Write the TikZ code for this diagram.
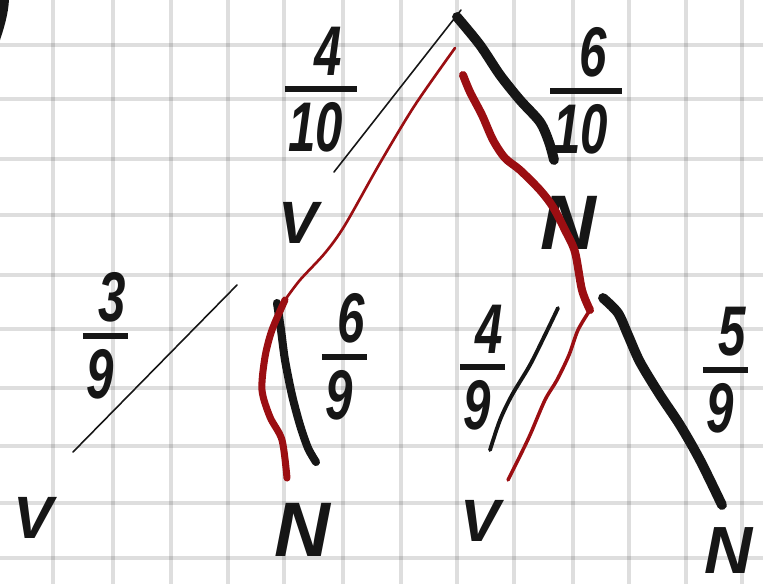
\documentclass[tikz,border=0pt]{standalone}
\usepackage{fontspec}
\setmainfont{Liberation Sans}
\usepackage{graphicx}
\definecolor{ink}{HTML}{161616}
\definecolor{inkred}{HTML}{9B0E12}
% hand-written fraction: narrow digits over a thick bar
\newcommand\frc[2]{\setbox0\hbox{\scalebox{0.7}[1]{#2}}%
  \vbox{\baselineskip0pt\lineskip0pt\lineskiplimit0pt
    \halign{\hfil##\hfil\cr
      \kern7pt\scalebox{0.7}[1]{#1}\cr\noalign{\kern3pt}
      \kern3pt\vrule width\dimexpr\wd0+5pt\relax height1.7pt depth0pt\cr\noalign{\kern3pt}
      \copy0\cr}}}

\begin{document}
\begin{tikzpicture}[x=0.1mm, y=-0.1mm,
    gridline/.style={draw=black, opacity=0.13, line width=1.05pt},
    pen/.style={draw=ink, line cap=round, line join=round},
    redpen/.style={draw=inkred, line cap=round, line join=round},
    lab/.style={inner sep=0pt, text=ink, font=\bfseries\itshape\fontsize{22}{22}\selectfont},
    vlab/.style={lab, font=\bfseries\itshape\fontsize{17}{17}\selectfont},
    frac/.style={inner sep=0pt, text=ink, font=\bfseries\itshape\fontsize{20}{20}\selectfont}]
  \useasboundingbox (0,0) rectangle (763,584);
  \fill[white] (0,0) rectangle (763,584);
  % squared paper
  \foreach \gx in {53,113,171,228,284,343,401,457,514,573,629,686,742}
    \draw[gridline] (\gx,0) -- (\gx,584);
  \foreach \gy in {45,99,159,215,275,329,388,446,503,558}
    \draw[gridline] (0,\gy) -- (763,\gy);
  \fill[ink] (0,0) -- (9,0) .. controls (8,15) and (4,28) .. (0,40) -- cycle;

  % outcomes
  \coordinate (root) at (461,10);
  \node[vlab] (V1) at (298,223) {V};
  \node[lab] (N1) at (568,223) {N};
  \node[vlab] (VV) at (33,518) {V};
  \node[lab] (VN) at (302,530) {N};
  \node[vlab] (NV) at (480,521) {V};
  \node[lab, font=\bfseries\itshape\fontsize{19}{19}\selectfont] (NN) at (729,551) {N};

  % probabilities
  \node[frac] (pV) at (316,90) {\frc{4}{10}};
  \node[frac] (pN) at (581,91) {\frc{6}{10}};
  \node[frac] (pVV) at (100,336) {\frc{3}{9}};
  \node[frac] (pVN) at (339,357) {\frc{6}{9}};
  \node[frac] (pNV) at (477,368) {\frc{4}{9}};
  \node[frac] (pNN) at (720,370) {\frc{5}{9}};

  % branches
  \draw[pen, line width=0.45pt] (root) -- (334,172);
  \draw[pen, line width=2.8pt] plot[smooth] coordinates
    {(457,17) (480,45) (500,75) (520,100) (540,122) (549,142) (554,160)};
  \draw[pen, line width=0.45pt] (237,285) -- (73,452);
  \draw[pen, line width=2.3pt] plot[smooth] coordinates
    {(277,303) (281,330) (285,360) (292,395) (300,425) (308,448) (316,462)};
  \draw[pen, line width=1.1pt] plot[smooth] coordinates
    {(558,308) (545,335) (530,365) (512,395) (500,420) (490,450)};
  \draw[pen, line width=2.8pt] plot[smooth] coordinates
    {(603,298) (618,313) (628,335) (640,362) (660,395) (680,425) (700,460) (722,505)};

  % chosen paths
  \draw[redpen, line width=0.75pt] plot[smooth] coordinates
    {(455,48) (415,105) (380,163) (345,225) (325,253) (300,280) (285,300)};
  \draw[redpen, line width=2pt] plot[smooth] coordinates
    {(285,300) (272,330) (265,357) (262,390) (270,417) (282,440) (287,478)};
  \draw[redpen, line width=2.3pt] plot[smooth] coordinates
    {(463,75) (470,92) (482,115) (493,140) (505,158) (520,170) (540,190) (553,207) (565,230) (575,252) (582,290) (590,310)};
  \draw[redpen, line width=1pt] plot[smooth] coordinates
    {(590,310) (578,330) (569,355) (557,380) (545,400) (530,435) (518,460) (508,480)};
\end{tikzpicture}
\end{document}
